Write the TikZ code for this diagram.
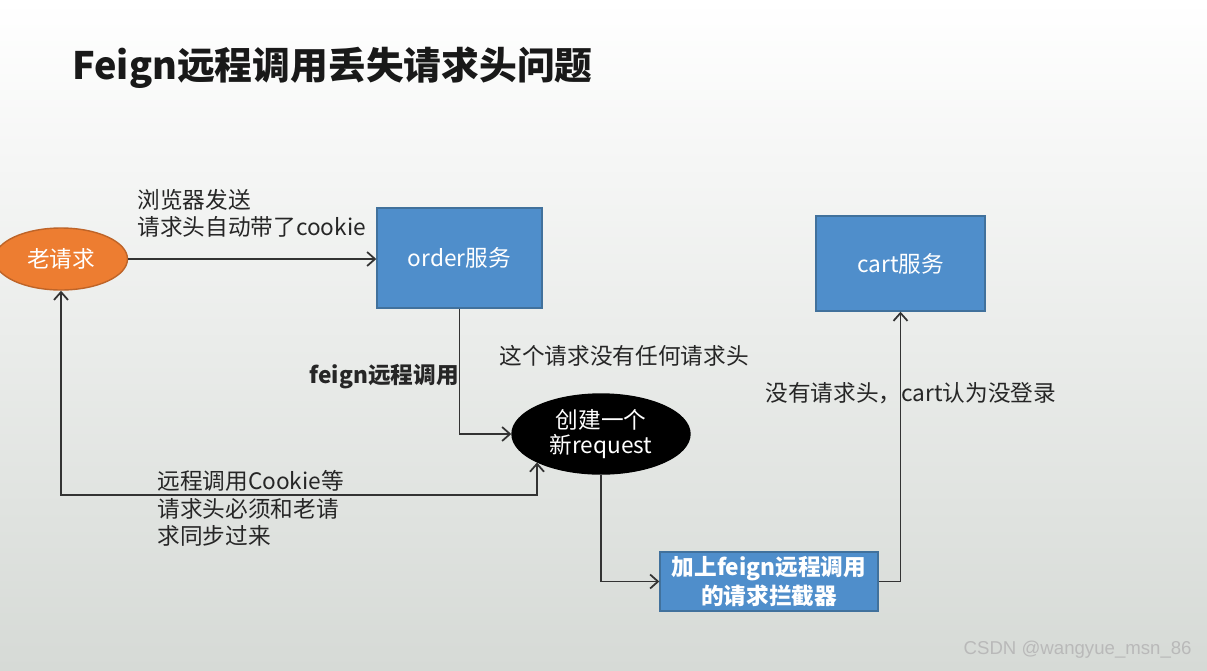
\documentclass[tikz,border=0pt]{standalone}
\usepackage{fontspec}
\setmainfont{Noto Sans CJK SC}
\newfontfamily\wmfont{Liberation Sans}
\usepackage{xcolor}
\usepackage{tikz}
\usetikzlibrary{arrows.meta,calc,positioning,shapes.geometric}
\definecolor{svcblue}{RGB}{79,142,203}
\definecolor{svcedge}{RGB}{65,113,156}
\definecolor{reqorange}{RGB}{237,125,49}
\definecolor{reqedge}{RGB}{190,100,40}
\definecolor{bgbottom}{RGB}{214,218,214}

\begin{document}
\begin{tikzpicture}[x=0.02cm,y=-0.02cm,
  every node/.style={inner sep=0pt},
  lbl/.style={text=black!85,font=\fontsize{12.9}{15.5}\selectfont,align=left},
  svc/.style={draw=svcedge,fill=svcblue,line width=0.8pt,text=white,
    font=\fontsize{12.9}{15.5}\selectfont,align=center},
  conn/.style={draw=black!80,line width=1pt,-{Straight Barb[length=4.5pt,width=8pt]}},
  sync/.style={draw=black!80,line width=1pt,{Straight Barb[length=4.5pt,width=8pt]}-{Straight Barb[length=4.5pt,width=8pt]}}]
\shade[top color=white,bottom color=bgbottom] (0,0) rectangle (1207,670);
\useasboundingbox (0,0) rectangle (1207,670);

\node[anchor=west,text=black!90,font=\fontsize{21.5}{26}\selectfont\bfseries] (title) at (72,68) {Feign远程调用丢失请求头问题};

\node[svc,ellipse,fill=reqorange,draw=reqedge,minimum width=2.66cm,minimum height=1.24cm] (oldreq) at (61,259) {老请求};
\node[svc,minimum width=3.3cm,minimum height=2cm] (order) at (459.5,258) {order服务};
\node[svc,minimum width=3.38cm,minimum height=1.9cm] (cart) at (900.5,263.5) {cart服务};
\node[svc,ellipse,fill=black,draw=black,minimum width=3.56cm,minimum height=1.6cm,
  font=\fontsize{12.9}{14.7}\selectfont] (newreq) at (601,434) {创建一个\\新request};
\node[svc,minimum width=4.36cm,minimum height=1.18cm,
  font=\fontsize{12.9}{16.4}\selectfont\bfseries] (intc) at (769,581.5) {加上feign远程调用\\的请求拦截器};
\coordinate (synccorner) at (61,495);

\draw[conn] (oldreq.east) -- (oldreq.east -| order.west);
\draw[conn] (order.south) |- (newreq.west);
\draw[conn] (newreq.south) |- (intc.west);
\draw[conn] (intc.east) -| (cart.south);
\draw[sync] (newreq.204) |- (synccorner) -- (oldreq.south);

\node[lbl,anchor=west] (sendlbl) at (137,213) {浏览器发送\\请求头自动带了cookie};
\node[lbl,anchor=east,font=\fontsize{12.9}{15.5}\selectfont\bfseries] (feignlbl) at (459,377) {feign远程调用};
\node[lbl,anchor=west] (noheadlbl) at (499,356) {这个请求没有任何请求头};
\node[lbl,anchor=west] (cartlbl) at (765,393) {没有请求头，cart认为没登录};
\node[lbl,anchor=west,font=\fontsize{12.9}{15.6}\selectfont] (synclbl) at (157,508.5) {远程调用Cookie等\\请求头必须和老请\\求同步过来};
\node[anchor=east,text=gray!55,font=\wmfont\fontsize{10.6}{13}\selectfont] (mark) at (1192,650) {CSDN @wangyue\_msn\_86};
\end{tikzpicture}
\end{document}
